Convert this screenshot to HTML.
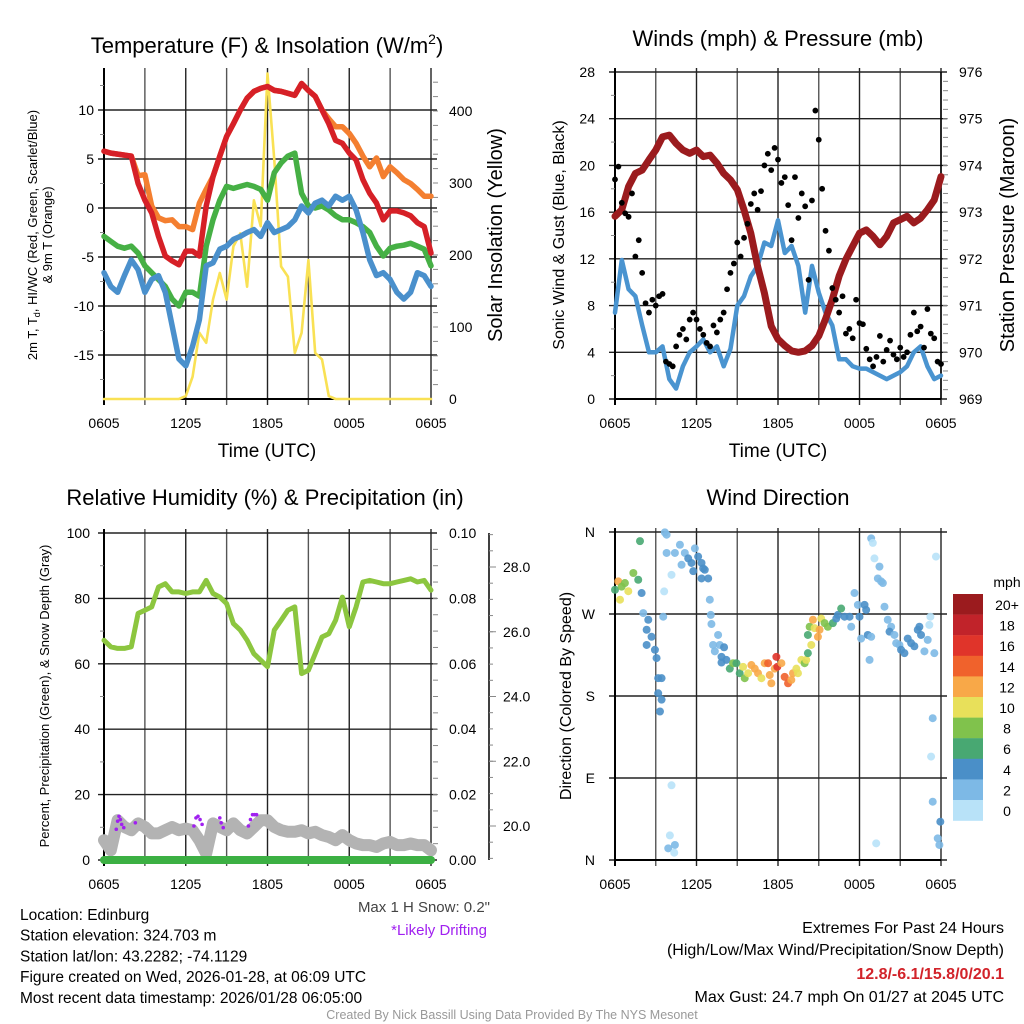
<!DOCTYPE html>
<html><head><meta charset="utf-8"><style>
html,body{margin:0;padding:0;background:#fff;}
svg{display:block;font-family:"Liberation Sans",sans-serif;}
</style></head><body>
<svg id="chart" width="1024" height="1024" viewBox="0 0 1024 1024" xmlns="http://www.w3.org/2000/svg"></svg>
<script>
// ---------- DATA ----------
const timeTicks = ["0605","1205","1805","0005","0605"];
// Temperature panel, half-hourly (49 values)
const tempRed = [5.8,5.6,5.5,5.4,5.3,2.5,0.8,-0.5,-2.9,-4.9,-5.4,-5.8,-4.4,-4.4,-4.9,0.2,3.2,5.3,7.3,8.6,10,11.2,11.9,12.2,12.4,12,11.9,11.7,11.5,12.7,12,11.4,10,8.6,6.9,6.6,5.6,4.9,2.9,1.5,0.5,-1.2,-0.3,-0.3,-0.5,-0.8,-1.5,-1.9,-4.6];
const tempOrange = [5.8,5.6,5.5,5.4,5.3,3.3,3.4,0.2,-1.0,-1.3,-1.2,-1.9,-1.9,-2.2,0.5,1.9,3.2,5.3,7.3,8.6,10,11.2,11.9,12.2,12.4,12,11.9,11.7,11.5,12.7,12,11.4,10,9.1,8.3,8.3,7.6,6.6,5.3,4.2,5.1,3.2,4.2,3.6,2.9,2.5,1.9,1.2,1.2];
const tempGreen = [-2.9,-3.4,-3.9,-4.1,-3.9,-4.6,-5.9,-6.6,-7.3,-8,-9.3,-10,-8.6,-8.6,-9,-3.9,-1.2,0.8,2.2,2,2.2,2.4,2.2,1.9,0.8,3.6,4.6,5.3,5.6,1.5,0.2,0,0.2,-0.2,-0.8,-1.2,-1.2,-1.5,-1.9,-2.5,-3.9,-4.9,-4.1,-3.9,-3.8,-3.6,-3.9,-4.2,-5.9];
const tempBlue = [-6.6,-8,-8.6,-6.9,-5.3,-6.3,-8.6,-7.3,-6.9,-8.6,-12,-15.4,-16.1,-14.1,-11.4,-5.9,-5.6,-4.2,-3.9,-3.2,-2.9,-2.5,-2.2,-2.9,-1.5,-2.5,-2.2,-1.9,-1.2,0.2,-0.5,0.5,0.8,0.2,1.2,0.8,1.2,-0.2,-2.5,-5.3,-6.9,-6.6,-7.3,-8.6,-9.3,-8.6,-6.6,-6.9,-8];
const solar = [0,0,0,0,0,0,0,0,0,0,0,0,4,31,92,78,138,175,138,212,230,156,276,240,452,332,184,170,64,92,193,64,55,4,0,0,0,0,0,0,0,0,0,0,0,0,0,0,0];
// Wind panel
const windSpeed = [7.4,11.9,9.4,8.8,6.3,4,4,4.5,1.7,0.9,2.8,4,4.5,5.1,4,4.5,2.8,4.3,8,8.8,10.5,11.4,13.4,13.1,15.3,12.5,13.1,11.4,7.4,11.4,9.1,7.4,6.3,3.4,3.4,2.8,2.6,2.6,2.3,2.0,1.7,2.0,2.3,2.8,4,4.5,2.8,1.7,2.0];
const pressure = [972.91,973.05,973.55,973.83,973.9,974.12,974.33,974.61,974.65,974.47,974.33,974.26,974.33,974.19,974.22,974.05,973.83,973.69,973.48,973.05,972.55,971.84,971.27,970.56,970.28,970.14,970.03,970.0,970.03,970.14,970.35,970.71,971.13,971.63,971.99,972.27,972.55,972.62,972.48,972.3,972.48,972.77,972.84,972.91,972.77,972.87,973.05,973.26,973.76];
// gusts every 15 min (97 values)
const gusts = [18.8,19.9,16.8,15.9,15.6,17.6,12.2,13.6,10.8,8.2,7.4,8.5,8.0,8.8,9.0,3.2,3.0,2.8,4.5,5.5,6.0,5.1,6.8,7.4,6.8,6.0,5.5,4.8,4.5,6.3,5.7,6.8,7.4,9.4,10.8,11.6,13.4,12.2,13.8,15.0,16.7,17.6,16.2,17.8,20.0,21.0,19.6,21.5,20.5,18.5,19.0,16.6,13.6,19.0,15.5,17.6,16.5,10.2,17.0,24.7,22.2,18.0,14.4,12.7,9.5,8.5,7.4,8.8,5.6,6.0,5.2,8.5,6.5,6.4,4.3,3.4,2.8,3.6,5.4,3.2,4.2,5.0,3.8,3.4,4.4,3.6,4.0,5.5,7.4,5.8,6.2,4.4,7.7,5.6,5.2,3.2,3.0];
// RH / precip / snow
const rh = [67.2,65.2,64.7,64.7,65.2,75.4,76.4,77.4,83.5,84.5,82,82,81.5,82,82,85.5,81.5,80.4,78.4,72.3,70.3,67.2,63.1,61.1,59.1,70.3,73.3,76.4,77.4,57.0,58,63.1,68.2,69.2,73.3,80.4,71.3,77.4,85,85.5,85,84.5,84.5,85,85.5,86,85,85.5,82.5];
const precip = [0,0,0,0,0,0,0,0,0,0,0,0,0,0,0,0,0,0,0,0,0,0,0,0,0,0,0,0,0,0,0,0,0,0,0,0,0,0,0,0,0,0,0,0,0,0,0,0,0];
const snowDepth = [19.56,19.25,20.18,19.97,19.87,20.08,19.97,19.77,19.77,19.87,19.97,19.87,19.92,19.87,19.56,19.15,20.08,19.97,19.87,20.08,19.87,19.77,19.97,20.18,20.18,19.97,19.87,19.82,19.82,19.87,19.77,19.82,19.72,19.66,19.56,19.72,19.56,19.46,19.41,19.41,19.35,19.46,19.51,19.41,19.41,19.46,19.41,19.41,19.25];
const driftHours = [0.9,1.0,1.1,1.2,1.3,1.45,2.3,6.6,6.75,6.9,7.05,7.2,8.5,8.6,8.75,10.6,10.75,10.9,11.05,11.2];
const driftDepth = [19.9,20.15,20.3,20.2,20.05,19.95,20.1,20.0,20.25,20.3,20.2,20.05,20.25,20.1,19.95,20.0,20.2,20.35,20.35,20.35];
// wind direction
const dirHours = [0,0.24,0.49,0.73,0.98,1.35,1.71,0.37,1.84,1.96,2.08,2.45,2.33,2.69,2.33,2.94,3.06,3.18,3.43,3.18,3.43,3.31,3.55,3.62,3.8,3.67,3.8,4.16,4.16,4.04,3.92,4.41,4.36,4.41,4.78,5.14,4.9,5.39,5.63,5.76,5.88,6.12,6.37,6.49,6.37,6.86,6.61,6.98,7.05,7.1,7.59,7.22,7.71,7.35,8.03,7.84,7.84,8.2,8.45,8.69,8.94,9.18,9.43,9.55,9.8,10.04,10.29,10.53,10.78,11.02,11.27,11.39,11.51,11.76,11.88,11.95,12.25,12.49,12.74,12.98,13.1,13.35,13.47,13.72,13.96,14.08,14.2,14.2,14.45,14.33,14.57,14.69,14.94,15.06,15.18,15.43,15.67,16.04,16.29,16.41,16.65,16.9,17.27,17.39,17.63,17.88,18.0,18.37,18.49,18.12,18.61,18.86,18.74,18.86,18.98,19.1,19.47,19.35,19.59,19.72,19.84,20.08,20.33,20.21,20.57,20.7,20.94,21.06,21.31,21.55,21.8,22.04,22.29,22.41,22.53,22.78,23.02,23.14,23.22,23.51,23.63,23.39,23.27,23.39,23.95,23.76,23.88,19.23];
const dirDegrees = [296.6,305.8,300,304,295,315,307.6,285.7,350,293,271,263.7,252.7,245,236,230.7,221.6,199.6,199.6,183,176,163,267,294.8,337,359.6,357,313,82,27,12.8,16.5,8,337,346,337,324,331,326,317,342,333,326,320,309,309,318.5,285.7,269,259,247,236,236,229,233.5,223,216.7,219.6,210,216,216,205,212,199.5,205,214,210,205,199.5,216,216,203,194,210,223,212,216,201,194,197.6,205,210,205,219.6,216,219.6,227,247,236,256,263.7,254.5,245,252.7,265,260,256,260,265,269,276,267,267,256,293,280,267,280,274.5,243,247,245,219.6,353,348,331,322,309,305.8,304,278,263.7,256,250.6,247,238,236,230.7,227,243,238,234.6,252.7,256,247,229,241.6,258,267,227,333,155.6,113.5,64,42,23.8,16.5,18.3];
const dirSpeeds = [7,12,9,8,10,8,6,10,6,4,3,4,4,4,4,4,4,4,4,4,4,4,2,1,2,2,2,1,1,1,2,2,1,2,2,2,2,4,4,4,2,4,4,4,4,4,4,2,2,2,2,2,2,2,4,4,4,4,6,8,6,6,10,8,10,12,12,12,10,12,14,12,12,12,16,16,12,14,14,12,12,10,10,10,8,10,6,6,10,8,12,10,12,12,10,8,8,6,4,4,6,4,4,2,2,2,4,4,4,2,4,2,2,2,1,1,2,2,2,2,2,2,2,4,2,2,2,4,4,4,4,4,4,4,4,2,2,1,1,2,1,2,1,2,4,2,2,1];
const speedLabels = ["20+","18","16","14","12","10","8","6","4","2","0"];
const speedColors = ["#9b1b1e","#c1232a","#e0342a","#f0622c","#f8a848","#e8e05a","#80c24c","#48a872","#4a8fc8","#7db9e6","#b8e2f8"];

// ---------- HELPERS ----------
const NS="http://www.w3.org/2000/svg";
const svg=document.getElementById('chart');
function el(tag,attrs,parent,txt){const e=document.createElementNS(NS,tag);for(const k in attrs)e.setAttribute(k,attrs[k]);if(txt!==undefined)e.textContent=txt;(parent||svg).appendChild(e);return e;}
function lin(d0,d1,r0,r1){return v=>r0+(v-d0)/(d1-d0)*(r1-r0);}
function grp(name){const g=el('g',{});return g;}
function txt(g,x,y,s,size,anchor,name,extra){const t=el('text',Object.assign({x:x,y:y,'font-size':size,'text-anchor':anchor||'middle',fill:'#000'},extra||{}),g,s);return t;}
function line(g,pts,color,w,name){const p=el('polyline',{points:pts.map(q=>q[0].toFixed(1)+','+q[1].toFixed(1)).join(' '),fill:'none',stroke:color,'stroke-width':w,'stroke-linejoin':'round','stroke-linecap':'round'},g);return p;}

function panel(name,x0,x1,y0,y1,hGridVals,ys){
  const g=grp(name);
  const xs=lin(0,24,x0,x1);
  for(let h=0;h<=24;h+=3){const X=xs(h);
    const l=el('line',{x1:X,y1:y0-4,x2:X,y2:y1+6,stroke:(h%6===0?'#222':'#555'),'stroke-width':1.4},g);
    }
  hGridVals.forEach(v=>{const Y=ys(v);const l=el('line',{x1:x0-6,y1:Y,x2:x1+6,y2:Y,stroke:'#222','stroke-width':1.4},g);
    });
  const f=el('line',{x1:x0,y1:y0-4,x2:x0,y2:y1+6,stroke:'#000','stroke-width':2},g);
  const f2=el('line',{x1:x0,y1:y1,x2:x1,y2:y1,stroke:'#000','stroke-width':2},g);
  timeTicks.forEach((s,i)=>txt(g,xs(i*6),y1+29,s,14,'middle','x-tick-label'));
  return {g,xs};
}
function minorTicks(g,x,vals,ys,len){vals.forEach(v=>{const l=el('line',{x1:x,y1:ys(v),x2:x+len,y2:ys(v),stroke:'#888','stroke-width':1},g);});}
function range(a,b,s){const r=[];for(let v=a;v<=b+1e-9;v+=s)r.push(+v.toFixed(4));return r;}

// ---------- PANEL 1: Temperature ----------
{
 const x0=104,x1=431,y0=72,y1=399;
 const ys=lin(0,10,208,110), yr=lin(0,400,399,111);
 const P=panel('temperature-panel',x0,x1,y0,y1,[-15,-10,-5,0,5,10],ys);const g=P.g,xs=P.xs;
 minorTicks(g,x0,range(-17.5,12.5,5),ys,-4);
 minorTicks(g,x1+2,range(20,440,20),yr,5);
 [-15,-10,-5,0,5,10].forEach(v=>txt(g,x0-10,ys(v)+5,String(v),14,'end','y-tick-label'));
 [0,100,200,300,400].forEach(v=>txt(g,x1+18,yr(v)+5,String(v),14,'start','right-tick-label'));
 const hx=i=>xs(i*0.5);
 line(g,solar.map((v,i)=>[hx(i),yr(v)]),'#f9e154',2.6,'solar-insolation-line');
 line(g,tempOrange.map((v,i)=>[hx(i),ys(v)]),'#f47f30',5.5,'temp-9m-line');
 line(g,tempGreen.map((v,i)=>[hx(i),ys(v)]),'#46b045',5.5,'dewpoint-line');
 line(g,tempBlue.map((v,i)=>[hx(i),ys(v)]),'#4a90cc',5.5,'windchill-line');
 line(g,tempRed.map((v,i)=>[hx(i),ys(v)]),'#d62027',5.5,'temp-2m-line');
 const t=txt(g,267,53,'',22,'middle','temperature-title');t.innerHTML='Temperature (F) &amp; Insolation (W/m<tspan font-size="14" dy="-9">2</tspan><tspan dy="9">)</tspan>';
 txt(g,267,457,'Time (UTC)',19,'middle','x-axis-title');
 txt(g,0,0,'Solar Insolation (Yellow)',20,'middle','right-axis-title',{transform:'translate(502,235) rotate(-90)'});
 const l1=txt(g,0,0,'',13,'middle','left-axis-title',{transform:'translate(37,235) rotate(-90)'});l1.innerHTML='2m T, T<tspan font-size="9" dy="3">d</tspan><tspan dy="-3">, HI/WC (Red, Green, Scarlet/Blue)</tspan>';
 txt(g,0,0,'& 9m T (Orange)',13,'middle','left-axis-title-2',{transform:'translate(52,235) rotate(-90)'});
}
// ---------- PANEL 2: Winds ----------
{
 const x0=615,x1=941,y0=72,y1=399;
 const ys=lin(0,28,399,72), yr=lin(969,976,399,72);
 const P=panel('winds-panel',x0,x1,y0,y1,[0,4,8,12,16,20,24,28],ys);const g=P.g,xs=P.xs;
 minorTicks(g,x0,range(2,26,4),ys,-4);
 minorTicks(g,x1+2,range(969.2,975.8,0.2),yr,5);
 const rl=el('line',{x1:x1,y1:y0,x2:x1,y2:y1,stroke:'#000','stroke-width':1.5},g);
 [0,4,8,12,16,20,24,28].forEach(v=>txt(g,x0-20,ys(v)+5,String(v),14,'end','y-tick-label'));
 [969,970,971,972,973,974,975,976].forEach(v=>txt(g,x1+18,yr(v)+5,String(v),14,'start','right-tick-label'));
 line(g,windSpeed.map((v,i)=>[xs(i*0.5),ys(v)]),'#4a94d0',4.5,'sonic-wind-line');
 line(g,pressure.map((v,i)=>[xs(i*0.5),yr(v)]),'#9b1b1e',7,'pressure-line');
 gusts.forEach((v,i)=>{const c=el('circle',{cx:xs(i*0.25),cy:ys(v),r:2.9,fill:'#000'},g);
   
   });
 txt(g,778,46,'Winds (mph) & Pressure (mb)',22,'middle','winds-title');
 txt(g,778,457,'Time (UTC)',19,'middle','x-axis-title');
 txt(g,0,0,'Sonic Wind & Gust (Blue, Black)',16,'middle','left-axis-title',{transform:'translate(564,235) rotate(-90)'});
 txt(g,0,0,'Station Pressure (Maroon)',20,'middle','right-axis-title',{transform:'translate(1014,235) rotate(-90)'});
}
// ---------- PANEL 3: RH ----------
{
 const x0=104,x1=431,y0=533,y1=860;
 const ys=lin(0,100,860,533), yr=lin(0,0.1,860,533), ysn=lin(20,28,826,567);
 const P=panel('humidity-panel',x0,x1,y0,y1,[0,20,40,60,80,100],ys);const g=P.g,xs=P.xs;
 minorTicks(g,x0,range(10,90,20),ys,-4);
 minorTicks(g,x1+2,range(0.005,0.095,0.005),yr,5);
 [0,20,40,60,80,100].forEach(v=>txt(g,x0-14,ys(v)+5,String(v),14,'end','y-tick-label'));
 [0,0.02,0.04,0.06,0.08,0.1].forEach(v=>txt(g,x1+18,yr(v)+5,v.toFixed(2),14,'start','right-tick-label'));
 const sa=el('line',{x1:489,y1:533,x2:489,y2:860,stroke:'#000','stroke-width':1.5},g);
 minorTicks(g,489,range(19,29,0.5),ysn,4);
 [20,22,24,26,28].forEach(v=>{minorTicks(g,489,[v],ysn,7);txt(g,503,ysn(v)+5,v.toFixed(1),14,'start','snow-tick-label');});
 line(g,rh.map((v,i)=>[xs(i*0.5),ys(v)]),'#8cc63f',5,'relative-humidity-line');
 line(g,snowDepth.map((v,i)=>[xs(i*0.5),ysn(v)]),'#b3b3b3',12,'snow-depth-line');
 driftHours.forEach((h,i)=>{const c=el('circle',{cx:xs(h),cy:ysn(driftDepth[i]),r:1.8,fill:'#a020f0'},g);
   
   });
 line(g,precip.map((v,i)=>[xs(i*0.5),yr(v)]),'#3cb043',8,'precipitation-line');
 txt(g,265,505,'Relative Humidity (%) & Precipitation (in)',22,'middle','humidity-title');
 txt(g,0,0,'Percent, Precipitation (Green), & Snow Depth (Gray)',13,'middle','left-axis-title',{transform:'translate(49,696) rotate(-90)'});
 txt(g,490,912,'Max 1 H Snow: 0.2"',15,'end','max-snow-note',{fill:'#444'});
 txt(g,487,935,'*Likely Drifting',15,'end','drifting-note',{fill:'#a020f0'});
}
// ---------- PANEL 4: Wind Direction ----------
{
 const x0=615,x1=941,y0=532,y1=860;
 const ys=lin(0,360,860,532);
 const P=panel('wind-direction-panel',x0,x1,y0,y1,[0,90,180,270,360],ys);const g=P.g,xs=P.xs;
 ["N","E","S","W","N"].forEach((s,i)=>txt(g,x0-20,ys(i*90)+5,s,14,'end','direction-tick-label'));
 const colorFor=s=>speedColors[10-Math.min(10,Math.floor(s/2))];
 dirHours.forEach((h,i)=>{const c=el('circle',{cx:xs(h),cy:ys(dirDegrees[i]),r:4,fill:colorFor(dirSpeeds[i]),'fill-opacity':0.9},g);
   
   });
 txt(g,778,505,'Wind Direction',22,'middle','wind-direction-title');
 txt(g,0,0,'Direction (Colored By Speed)',16,'middle','left-axis-title',{transform:'translate(571,696) rotate(-90)'});
 const cb=grp('speed-colorbar');
 txt(cb,1007,587,'mph',14,'middle','colorbar-title');
 speedLabels.forEach((s,i)=>{const r=el('rect',{x:953,y:594+i*20.6,width:30,height:20.8,fill:speedColors[i]},cb);
   
   
   txt(cb,1007,594+i*20.6+16,s,14,'middle','colorbar-label');});
}
// ---------- TEXT ----------
{
 const g=grp('station-info');
 ["Location: Edinburg","Station elevation: 324.703 m","Station lat/lon: 43.2282; -74.1129","Figure created on Wed, 2026-01-28, at 06:09 UTC","Most recent data timestamp: 2026/01/28 06:05:00"].forEach((s,i)=>txt(g,20,920+i*20.7,s,15.5,'start','info-line'));
 const r=grp('extremes-info');
 txt(r,1004,933,'Extremes For Past 24 Hours',16,'end','extremes-title');
 txt(r,1004,955,'(High/Low/Max Wind/Precipitation/Snow Depth)',16,'end','extremes-subtitle');
 txt(r,1004,979,'12.8/-6.1/15.8/0/20.1',16,'end','extremes-values',{fill:'#d2232a','font-weight':'bold'});
 txt(r,1004,1002,'Max Gust: 24.7 mph On 01/27 at 2045 UTC',16,'end','max-gust');
 txt(svg,512,1019,'Created By Nick Bassill Using Data Provided By The NYS Mesonet',12.5,'middle','credit-footer',{fill:'#999'});
}
</script>
</body></html>
